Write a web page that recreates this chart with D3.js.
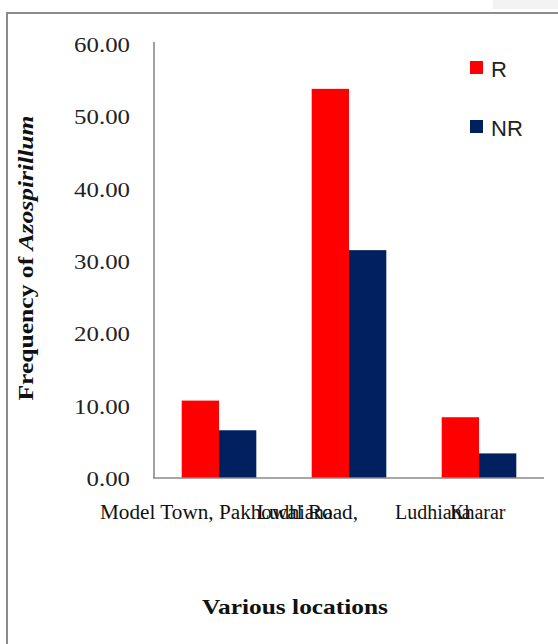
<!DOCTYPE html>
<html>
<head>
<meta charset="utf-8">
<script src="https://d3js.org/d3.v7.min.js"></script>
<style>
  html, body { margin: 0; padding: 0; background: #ffffff; }
  svg { display: block; }
</style>
</head>
<body>
<svg id="chart" width="558" height="644"></svg>
<script>
// ---- data ----
const categories = ["Model Town, Ludhiana", "Pakhowal Road, Ludhiana", "Kharar"];
const seriesNames = ["R", "NR"];
const valuesR  = [10.7, 53.8, 8.4];
const valuesNR = [6.6, 31.5, 3.4];
const yTicks = [0, 10, 20, 30, 40, 50, 60];
const xTickTexts = ["Model Town, Pakhowal Road,", "Ludhiana", "Ludhiana", "Kharar"];
const yTitleParts = ["Frequency of ", "Azospirillum"];
const xTitle = "Various locations";

// ---- layout ----
const colors = { R: "#ff0000", NR: "#002060" };
const svg = d3.select("#chart");

// frame
svg.append("rect").attr("x", 493).attr("y", 0).attr("width", 65).attr("height", 9).attr("fill", "#f3f3f3");
svg.append("rect").attr("x", 7).attr("y", 13).attr("width", 600).attr("height", 700)
  .attr("fill", "none").attr("stroke", "#8c8c8c").attr("stroke-width", 2);

const x0 = d3.scaleBand().domain(categories).range([154, 544]).paddingInner(0.426).paddingOuter(0.213);
const x1 = d3.scaleBand().domain(seriesNames).range([0, x0.bandwidth()]);
const y = d3.scaleLinear().domain([0, 60]).range([478, 44]);

const table = categories.map((c, i) => ({ cat: c, R: valuesR[i], NR: valuesNR[i] }));

// bars
const g = svg.append("g");
g.selectAll("g.grp").data(table).join("g")
  .attr("class", "grp")
  .attr("transform", d => `translate(${x0(d.cat)},0)`)
  .selectAll("rect").data(d => seriesNames.map(s => ({ s, v: d[s] }))).join("rect")
  .attr("x", d => x1(d.s))
  .attr("width", x1.bandwidth())
  .attr("y", d => y(d.v))
  .attr("height", d => y(0) - y(d.v))
  .attr("fill", d => colors[d.s]);

// y axis
const yAxis = svg.append("g").attr("transform", "translate(154,0)")
  .call(d3.axisLeft(y).tickValues(yTicks).tickFormat(d3.format(".2f")).tickSize(0).tickPadding(24));
yAxis.select(".domain").remove();
yAxis.selectAll("text")
  .attr("font-family", "'Liberation Serif', 'Times New Roman', serif")
  .attr("font-size", 22).attr("fill", "#222")
  .attr("dy", "0.34em")
  .each(function () {
    const w = this.getComputedTextLength();
    d3.select(this).attr("textLength", w * 1.13).attr("lengthAdjust", "spacingAndGlyphs");
  });
svg.append("line").attr("x1", 154).attr("x2", 154).attr("y1", y(0)).attr("y2", y(60) - 2)
  .attr("stroke", "#8a8a8a").attr("stroke-width", 1.6);
// x axis line
svg.append("line").attr("x1", 153).attr("x2", 544).attr("y1", y(0)).attr("y2", y(0))
  .attr("stroke", "#8a8a8a").attr("stroke-width", 1.6);

// category labels (overlapping as in the original)
const c0 = x0(categories[0]) + x0.bandwidth() / 2;
const c1 = x0(categories[1]) + x0.bandwidth() / 2;
const c2 = x0(categories[2]) + x0.bandwidth() / 2;
const labelPos = [
  { x: c0 - 119, len: 258 },
  { x: c1 - 92 },
  { x: c2 - 84 },
  { x: c2 - 29 }
];
svg.append("g").selectAll("text").data(xTickTexts).join("text")
  .attr("x", (d, i) => labelPos[i].x)
  .attr("y", 519)
  .attr("textLength", (d, i) => labelPos[i].len || null)
  .attr("lengthAdjust", (d, i) => labelPos[i].len ? "spacingAndGlyphs" : null)
  .attr("font-family", "'Liberation Serif', 'Times New Roman', serif")
  .attr("font-size", 20).attr("fill", "#111")
  .text(d => d);

// y title
const yt = svg.append("text")
  .attr("transform", "translate(33,258) rotate(-90)")
  .attr("text-anchor", "middle")
  .attr("textLength", 285).attr("lengthAdjust", "spacingAndGlyphs")
  .attr("font-family", "'Liberation Serif', 'Times New Roman', serif")
  .attr("font-size", 21).attr("font-weight", "bold").attr("fill", "#111");
yt.append("tspan").text(yTitleParts[0]);
yt.append("tspan").attr("font-style", "italic").text(yTitleParts[1]);

// x title
svg.append("text")
  .attr("x", 295).attr("y", 614)
  .attr("text-anchor", "middle")
  .attr("textLength", 186).attr("lengthAdjust", "spacingAndGlyphs")
  .attr("font-family", "'Liberation Serif', 'Times New Roman', serif")
  .attr("font-size", 22).attr("font-weight", "bold").attr("fill", "#111")
  .text(xTitle);

// legend
const leg = svg.append("g").selectAll("g").data(seriesNames).join("g")
  .attr("transform", (d, i) => `translate(470,${61 + i * 59})`);
leg.append("rect").attr("width", 13).attr("height", 13).attr("fill", d => colors[d]);
leg.append("text").attr("x", 21).attr("y", 16)
  .attr("font-family", "'Liberation Sans', Arial, sans-serif")
  .attr("font-size", 22).attr("fill", "#222")
  .text(d => d);
</script>
</body>
</html>
